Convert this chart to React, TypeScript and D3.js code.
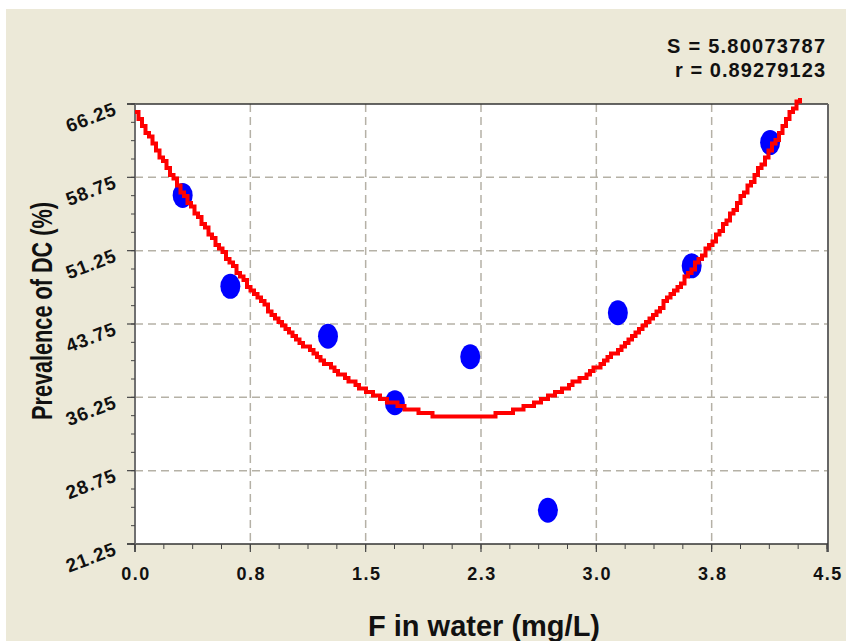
import React from 'react';
import * as d3 from 'd3';

// measured points (F in water mg/L vs prevalence of DC %)
const fluoride = [0.31, 0.62, 1.255, 1.69, 2.18, 2.685, 3.14, 3.62, 4.13];
const prevalence = [56.9, 47.6, 42.5, 35.7, 40.4, 24.7, 44.9, 49.7, 62.3];

const xTicks = [0, 0.75, 1.5, 2.25, 3, 3.75, 4.5];
const xTickLabels = ['0.0', '0.8', '1.5', '2.3', '3.0', '3.8', '4.5'];
const yTicks = [21.25, 28.75, 36.25, 43.75, 51.25, 58.75, 66.25];
const yTickLabels = ['21.25', '28.75', '36.25', '43.75', '51.25', '58.75', '66.25'];

const statLines = ['S = 5.80073787', 'r = 0.89279123'];

const W = 846;
const H = 641;
const left = 135;
const right = 827;
const top = 104;
const bottom = 544;

// least squares quadratic fit y = c0 + c1 x + c2 x^2
const quadFit = (xs: number[], ys: number[]) => {
  const s = (k: number) => d3.sum(xs, x => Math.pow(x, k));
  const t = (k: number) => d3.sum(xs.map((x, i) => Math.pow(x, k) * ys[i]));
  const A = [
    [xs.length, s(1), s(2)],
    [s(1), s(2), s(3)],
    [s(2), s(3), s(4)],
  ];
  const b = [t(0), t(1), t(2)];
  const det = (m: number[][]) =>
    m[0][0] * (m[1][1] * m[2][2] - m[1][2] * m[2][1]) -
    m[0][1] * (m[1][0] * m[2][2] - m[1][2] * m[2][0]) +
    m[0][2] * (m[1][0] * m[2][1] - m[1][1] * m[2][0]);
  const D = det(A);
  return [0, 1, 2].map(c => det(A.map((row, i) => row.map((v, j) => (j === c ? b[i] : v)))) / D);
};

const App = () => {
  const x = d3.scaleLinear().domain([0, 4.5]).range([left, right]);
  const y = d3.scaleLinear().domain([21.25, 66.25]).range([bottom, top]);

  const [c0, c1, c2] = quadFit(fluoride, prevalence);
  const fit = (v: number) => c0 + c1 * v + c2 * v * v;

  // stair-stepped rendering like the original plot
  const q = 3.5;
  const curvePts: [number, number][] = d3.range(left, right, q).map(px => {
    const py = y(fit(x.invert(px)));
    return [px, Math.round(py / q) * q];
  });
  const curve = d3.line().curve(d3.curveStepAfter)(curvePts) || '';

  const xMinor = d3.range(0, 4.5 + 1e-6, 0.1875);
  const yMinor = d3.range(21.25, 66.25 + 1e-6, 1.875);

  const font = 'Arial, "Liberation Sans", Helvetica, sans-serif';

  return (
    <svg width={W} height={H} style={{ position: 'absolute', left: 0, top: 0 }}>
      <defs>
        <clipPath id="plotClip">
          <rect x={left} y={98} width={right - left} height={bottom - 98} />
        </clipPath>
      </defs>
      <rect x={0} y={0} width={W} height={H} fill="#ffffff" />
      <rect x={6} y={9} width={W - 6} height={H - 9} fill="#ECE9D8" />
      <rect x={left} y={top} width={right - left} height={bottom - top} fill="#ffffff" />

      {/* grid */}
      {yTicks.slice(1, -1).map(t => (
        <line key={'gy' + t} x1={left} x2={right} y1={y(t)} y2={y(t)}
          stroke="#b5b1a6" strokeWidth={1.5} strokeDasharray="8,5" />
      ))}
      {xTicks.slice(1, -1).map(t => (
        <line key={'gx' + t} x1={x(t)} x2={x(t)} y1={top} y2={bottom}
          stroke="#b5b1a6" strokeWidth={1.5} strokeDasharray="8,5" />
      ))}

      {/* frame and axes */}
      <line x1={127} x2={right + 1} y1={top} y2={top} stroke="#333" strokeWidth={1.5} />
      <line x1={right + 1} x2={right + 1} y1={top} y2={bottom + 8} stroke="#666" strokeWidth={2} />
      <line x1={127} x2={right + 1} y1={bottom} y2={bottom} stroke="#333" strokeWidth={1.5} />
      <line x1={left} x2={left} y1={top} y2={bottom + 8} stroke="#707070" strokeWidth={2} />

      {yMinor.map(t => (
        <line key={'ym' + t} x1={131} x2={left} y1={y(t)} y2={y(t)} stroke="#444" strokeWidth={1} />
      ))}
      {yTicks.map(t => (
        <line key={'yt' + t} x1={127} x2={left} y1={y(t)} y2={y(t)} stroke="#444" strokeWidth={1.2} />
      ))}
      {xMinor.map(t => (
        <line key={'xm' + t} x1={x(t)} x2={x(t)} y1={bottom} y2={bottom + 5} stroke="#444" strokeWidth={1} />
      ))}
      {xTicks.map(t => (
        <line key={'xt' + t} x1={x(t)} x2={x(t)} y1={bottom} y2={bottom + 8} stroke="#444" strokeWidth={1.2} />
      ))}

      {/* tick labels */}
      {xTicks.map((t, i) => (
        <text key={'xl' + t} x={x(t) + 1} y={580} textAnchor="middle" letterSpacing={1.5}
          fontFamily={font} fontWeight="bold" fontSize={18} fill="#111">
          {xTickLabels[i]}
        </text>
      ))}
      {yTicks.map((t, i) => (
        <text key={'yl' + t} x={118} y={y(t) + 10} textAnchor="end" letterSpacing={1}
          transform={`rotate(-21, 118, ${y(t) + 10})`}
          fontFamily={font} fontWeight="bold" fontSize={19} fill="#111">
          {yTickLabels[i]}
        </text>
      ))}

      {/* points */}
      {fluoride.map((v, i) => (
        <ellipse key={'p' + i} cx={x(v)} cy={y(prevalence[i])} rx={10} ry={12.5} fill="#0000ff" />
      ))}

      {/* fitted curve */}
      <path d={curve} fill="none" stroke="#ff0000" strokeWidth={4} clipPath="url(#plotClip)" />

      {/* stats */}
      {statLines.map((s, i) => (
        <text key={'s' + i} x={825} y={53 + i * 24} textAnchor="end"
          fontFamily={font} fontWeight="bold" fontSize={20} fill="#111"
          textLength={i === 0 ? 158 : 150} lengthAdjust="spacing">
          {s}
        </text>
      ))}

      {/* axis titles */}
      <text x={484} y={636} textAnchor="middle" fontFamily={font} fontWeight="bold" fontSize={30}
        fill="#111" textLength={232} lengthAdjust="spacingAndGlyphs">
        F in water (mg/L)
      </text>
      <text transform="translate(52, 311) rotate(-90)" textAnchor="middle" fontFamily={font}
        fontWeight="bold" fontSize={29} fill="#111" textLength={218} lengthAdjust="spacingAndGlyphs">
        Prevalence of DC (%)
      </text>
    </svg>
  );
};

export default App;
